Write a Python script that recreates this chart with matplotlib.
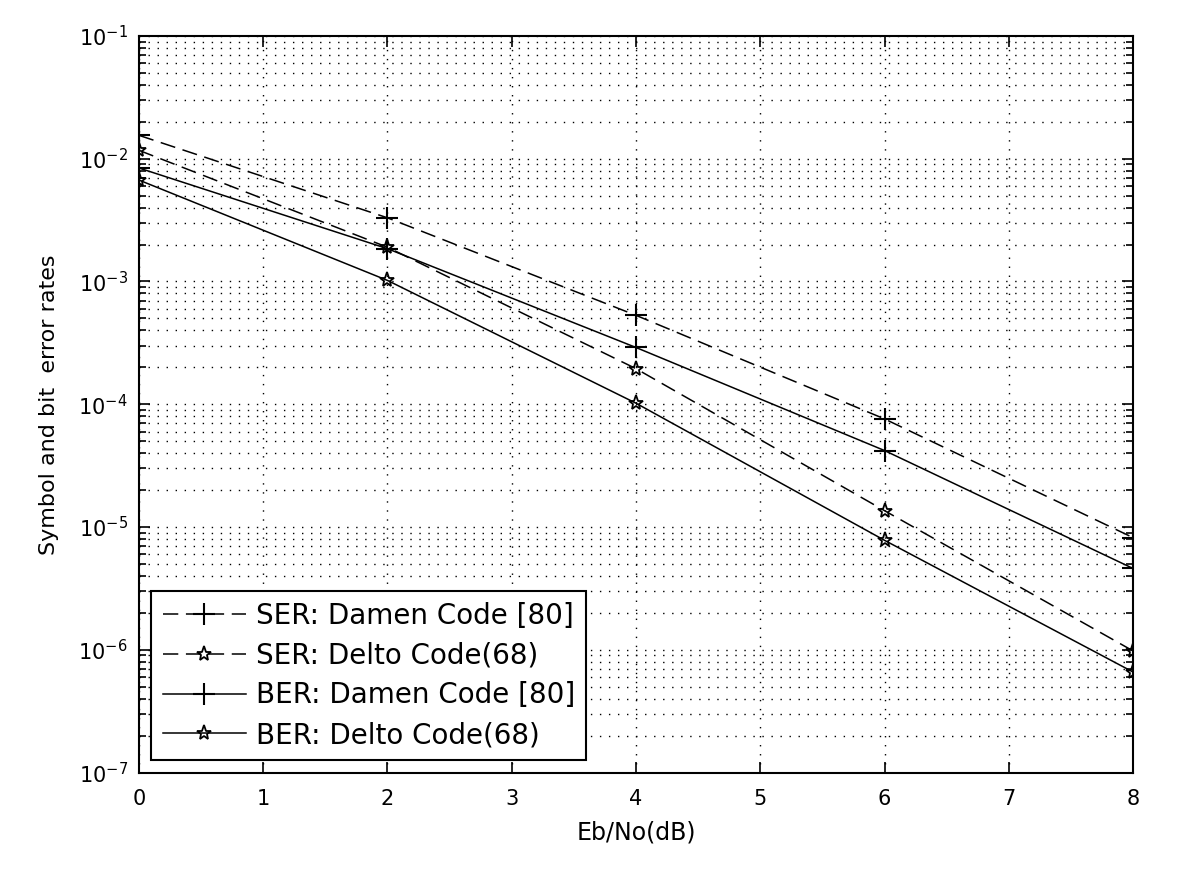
import matplotlib
matplotlib.use("Agg")
import matplotlib.pyplot as plt
from matplotlib.ticker import LogLocator, NullFormatter, MultipleLocator, FixedLocator

ebno = [0, 2, 4, 6, 8]
ser_damen = [1.55e-2, 3.3e-3, 5.3e-4, 7.6e-5, 8.2e-6]
ser_delto = [1.17e-2, 1.9e-3, 1.95e-4, 1.36e-5, 9.8e-7]
ber_damen = [8.4e-3, 1.85e-3, 2.9e-4, 4.2e-5, 4.6e-6]
ber_delto = [6.7e-3, 1.02e-3, 1.02e-4, 7.8e-6, 6.6e-7]
labels = ["SER: Damen Code [80]", "SER: Delto Code(68)",
          "BER: Damen Code [80]", "BER: Delto Code(68)"]
yticks = [1e-7, 1e-6, 1e-5, 1e-4, 1e-3, 1e-2, 1e-1]

plt.rcParams['font.family'] = ['DejaVu Sans']
plt.rcParams['font.size'] = 14

fig = plt.figure(figsize=(12, 8.76), dpi=100)
ax = fig.add_axes([0.1158, 0.118, 0.8284, 0.841])

dash = (0, (10, 5))
ax.semilogy(ebno, ser_damen, color='k', ls=dash, lw=1.1, marker='+', ms=16, mew=1.5, label=labels[0])
ax.semilogy(ebno, ser_delto, color='k', ls=dash, lw=1.1, marker='*', ms=11, mew=1.3, mfc='none', label=labels[1])
ax.semilogy(ebno, ber_damen, color='k', ls='-', lw=1.1, marker='+', ms=16, mew=1.5, label=labels[2])
ax.semilogy(ebno, ber_delto, color='k', ls='-', lw=1.1, marker='*', ms=11, mew=1.3, mfc='none', label=labels[3])

ax.set_xlim(0, 8)
ax.set_ylim(1e-7, 1e-1)
ax.xaxis.set_major_locator(MultipleLocator(1))
ax.yaxis.set_major_locator(FixedLocator(yticks))
ax.yaxis.set_minor_locator(LogLocator(base=10, subs=range(2, 10), numticks=20))
ax.yaxis.set_minor_formatter(NullFormatter())

ax.grid(True, which='major', axis='both', color='k', ls=(0, (1, 5.5)), lw=1.0)
ax.grid(True, which='minor', axis='y', color='k', ls=(0, (1, 5.5)), lw=1.0)
ax.tick_params(which='both', direction='in', top=True, right=True, labelsize=15, width=1.2)
ax.tick_params(which='major', length=8, pad=8)
ax.tick_params(axis='x', which='major', pad=12)
ax.tick_params(which='minor', length=5)
for s in ax.spines.values():
    s.set_linewidth(1.5)

ax.set_xlabel('Eb/No(dB)', fontsize=17, labelpad=8)
ax.set_ylabel('Symbol and bit  error rates', fontsize=16, labelpad=14)

leg = ax.legend(loc='lower left', fontsize=20, fancybox=False, framealpha=1,
                edgecolor='k', handlelength=3.0, handletextpad=0.35,
                borderaxespad=0.45, labelspacing=0.42, borderpad=0.4)
leg.get_frame().set_linewidth(1.5)

fig.savefig('out.png', dpi=100)
